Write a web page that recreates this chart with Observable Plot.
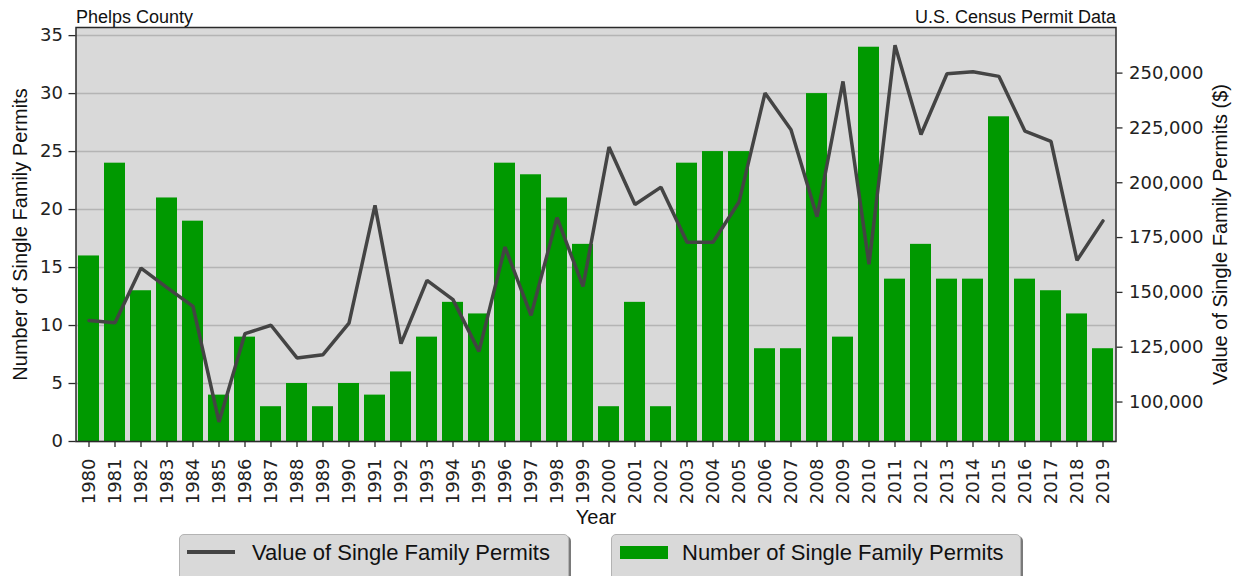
<!DOCTYPE html>
<html>
<head>
<meta charset="utf-8">
<script src="https://cdn.jsdelivr.net/npm/d3@7"></script>
<script src="https://cdn.jsdelivr.net/npm/@observablehq/plot@0.6"></script>
<style>
  html, body { margin: 0; padding: 0; background: #fff; overflow: hidden; }
  #chart svg { display: block; }
  #legend { position: relative; width: 1242px; height: 46px; overflow: hidden; font-family: "Liberation Sans", Arial, sans-serif; font-size: 22px; color: #111; }
  .box { position: absolute; top: 4px; height: 50px; background: #d9d9d9; border: 1px solid #b3b3b3; border-radius: 5px; box-shadow: 2px 2px 0 #7a7a7a; }
  .box .t { position: absolute; top: 7px; line-height: 22px; white-space: nowrap; }
  .box .ln { position: absolute; left: 7px; top: 15px; width: 48px; height: 3.5px; background: #444; }
  .box .sw { position: absolute; left: 8px; top: 11px; width: 48px; height: 13px; background: #009900; }
</style>
</head>
<body>
<div id="chart"></div>
<div id="legend"></div>
<script>
// ---- data ----
const years = [1980, 1981, 1982, 1983, 1984, 1985, 1986, 1987, 1988, 1989,
               1990, 1991, 1992, 1993, 1994, 1995, 1996, 1997, 1998, 1999,
               2000, 2001, 2002, 2003, 2004, 2005, 2006, 2007, 2008, 2009,
               2010, 2011, 2012, 2013, 2014, 2015, 2016, 2017, 2018, 2019];
const permitCounts = [16, 24, 13, 21, 19, 4, 9, 3, 5, 3,
                      5, 4, 6, 9, 12, 11, 24, 23, 21, 17,
                      3, 12, 3, 24, 25, 25, 8, 8, 30, 9,
                      34, 14, 17, 14, 14, 28, 14, 13, 11, 8];
const permitValues = [137200, 136200, 161100, 152200, 143600, 90900, 131200, 135000, 120100, 121600,
                      136000, 189700, 126600, 155500, 146700, 123100, 170700, 139500, 184100, 152700,
                      216300, 190100, 198000, 172900, 172900, 191200, 240900, 224200, 184500, 246200,
                      162800, 262700, 222000, 249700, 250600, 248500, 223500, 218900, 164600, 182600];
const leftTicks = [0, 5, 10, 15, 20, 25, 30, 35];
const rightTicks = [100000, 125000, 150000, 175000, 200000, 225000, 250000];
const titleLeft = "Phelps County";
const titleRight = "U.S. Census Permit Data";
const yLabelLeft = "Number of Single Family Permits";
const yLabelRight = "Value of Single Family Permits ($)";
const xLabel = "Year";
const seriesLine = "Value of Single Family Permits";
const seriesBar = "Number of Single Family Permits";

// ---- build ----
const table = years.map((y, i) => ({year: y, count: permitCounts[i], value: permitValues[i]}));
const yMax = 35.7;
// secondary (right) axis: value in $ mapped into the left-axis units
const y2 = d3.scaleLinear().domain([82000, 270800]).range([0, yMax]);
const fmt = d3.format(",");
const labelFont = "Liberation Sans, Arial, sans-serif";

const chart = Plot.plot({
  width: 1242,
  height: 530,
  marginLeft: 75.5,
  marginRight: 126.5,
  marginTop: 27,
  marginBottom: 89,
  style: {fontFamily: "DejaVu Sans, sans-serif", fontSize: "18px", color: "#222", background: "#fff", overflow: "visible"},
  x: {type: "band", domain: years, paddingInner: 0.2, paddingOuter: 0, align: 0.5},
  y: {domain: [0, yMax]},
  marks: [
    Plot.frame({fill: "#d9d9d9"}),
    Plot.gridY(leftTicks, {stroke: "#b4b4b4", strokeOpacity: 1, strokeWidth: 1.5}),
    Plot.barY(table, {x: "year", y: "count", fill: "#009900"}),
    Plot.line(table, {x: "year", y: d => y2(d.value), stroke: "#444444", strokeWidth: 3.5, strokeLinejoin: "miter"}),
    Plot.frame({stroke: "#2a2a2a", strokeWidth: 1.5}),
    Plot.axisY(leftTicks, {anchor: "left", tickSize: 7, tickPadding: 6, label: null, stroke: "#2a2a2a", strokeWidth: 1.3}),
    Plot.axisY(rightTicks.map(y2), {anchor: "right", tickSize: 6, tickPadding: 7, label: null, stroke: "#2a2a2a", strokeWidth: 1.3,
      tickFormat: d => fmt(Math.round(y2.invert(d) / 1000) * 1000)}),
    Plot.axisX({anchor: "bottom", tickRotate: -90, tickSize: 6, tickPadding: 11, label: null, stroke: "#2a2a2a", strokeWidth: 1.3,
      tickFormat: d => String(d)}),
    Plot.text([titleLeft], {text: d => d, frameAnchor: "top-left", textAnchor: "start", lineAnchor: "middle", dy: -10.7, fontSize: 18, fontFamily: labelFont, fill: "#111"}),
    Plot.text([titleRight], {text: d => d, frameAnchor: "top-right", textAnchor: "end", lineAnchor: "middle", dy: -10.7, fontSize: 18, fontFamily: labelFont, fill: "#111"}),
    Plot.text([yLabelLeft], {text: d => d, frameAnchor: "left", textAnchor: "middle", lineAnchor: "middle", rotate: -90, dx: -55.5, fontSize: 20, fontFamily: labelFont, fill: "#111"}),
    Plot.text([yLabelRight], {text: d => d, frameAnchor: "right", textAnchor: "middle", lineAnchor: "middle", rotate: -90, dx: 104.5, fontSize: 20, fontFamily: labelFont, fill: "#111"}),
    Plot.text([xLabel], {text: d => d, frameAnchor: "bottom", lineAnchor: "middle", dy: 75.7, fontSize: 20, fontFamily: labelFont, fill: "#111"})
  ]
});
document.getElementById("chart").appendChild(chart);

// ---- legend (below the SVG) ----
const legend = document.getElementById("legend");
legend.innerHTML =
  `<div class="box" style="left:179px;width:388px"><span class="ln"></span><span class="t" style="left:72px">${seriesLine}</span></div>` +
  `<div class="box" style="left:611px;width:408px"><span class="sw"></span><span class="t" style="left:70px">${seriesBar}</span></div>`;
</script>
</body>
</html>
